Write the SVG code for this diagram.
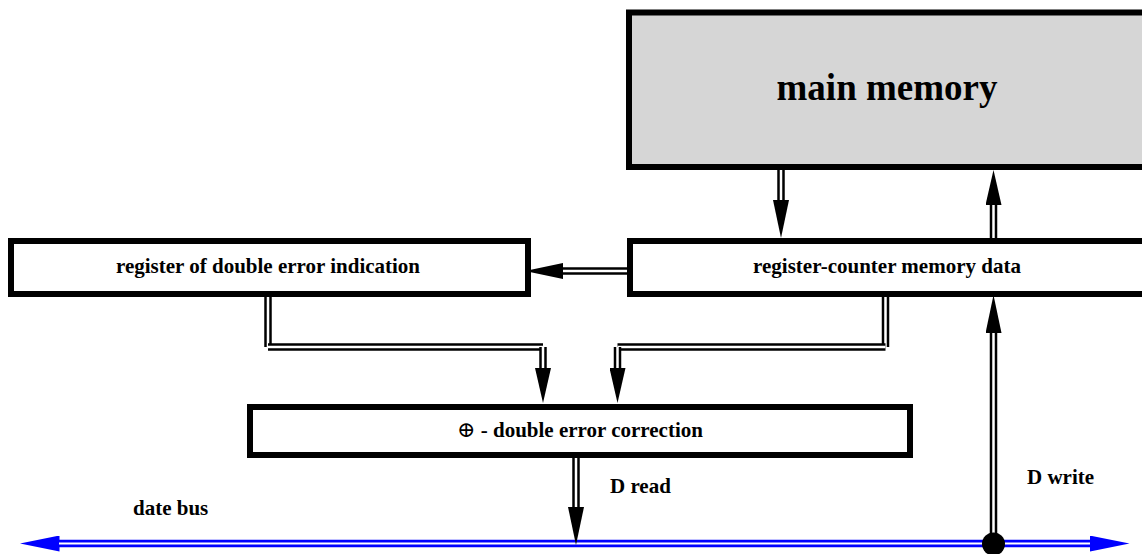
<svg xmlns="http://www.w3.org/2000/svg" width="1142" height="554" viewBox="0 0 1142 554">
  <style>
    .box { fill: #ffffff; stroke: #000000; stroke-width: 6; }
    .mem { fill: #d6d6d6; stroke: #000000; stroke-width: 6; }
    .lbl { font-family: "Liberation Serif", "DejaVu Serif", serif; font-weight: bold; font-size: 21px; fill: #000000; }
    .big { font-size: 37px; }
    .sym { font-family: "DejaVu Serif", serif; font-weight: normal; font-size: 22px; }
    .bk { fill: none; stroke: #000000; stroke-width: 7.5; stroke-linecap: butt; }
    .wt { fill: none; stroke: #ffffff; stroke-width: 2.5; stroke-linecap: butt; }
    .bus { fill: none; stroke: #0000ff; stroke-width: 7.5; }
    .buswt { fill: none; stroke: #ffffff; stroke-width: 2; }
  </style>
  <defs>
    <marker id="head" viewBox="0 0 38 16" markerWidth="38" markerHeight="16" refX="0.5" refY="8" orient="auto" markerUnits="userSpaceOnUse">
      <path d="M0,0 L38,8 L0,16 z" fill="#000000"/>
    </marker>
    <marker id="headS" viewBox="0 0 35 16" markerWidth="35" markerHeight="16" refX="0.5" refY="8" orient="auto" markerUnits="userSpaceOnUse">
      <path d="M0,0 L35,8 L0,16 z" fill="#000000"/>
    </marker>
    <marker id="busHead" viewBox="0 0 40 16" markerWidth="40" markerHeight="16" refX="0.5" refY="8" orient="auto-start-reverse" markerUnits="userSpaceOnUse">
      <path d="M0,0 L40,8 L0,16 z" fill="#0000ff"/>
    </marker>
  </defs>

  <!-- blocks -->
  <g id="main-memory">
    <rect class="mem" x="629" y="12.5" width="530" height="154.5"/>
    <text class="lbl big" x="887" y="100" text-anchor="middle">main memory</text>
  </g>
  <g id="register-counter">
    <rect class="box" x="630" y="241" width="530" height="53"/>
    <text class="lbl" x="887" y="273" text-anchor="middle">register-counter memory data</text>
  </g>
  <g id="double-error-indication">
    <rect class="box" x="11" y="241" width="517" height="53"/>
    <text class="lbl" x="268" y="273" text-anchor="middle">register of double error indication</text>
  </g>
  <g id="double-error-correction">
    <rect class="box" x="250" y="407" width="660" height="48"/>
    <text class="lbl" x="580" y="437" text-anchor="middle"><tspan class="sym">⊕</tspan> - double error correction</text>
  </g>

  <!-- data bus -->
  <g id="date-bus">
    <path class="bus" d="M59,543.5 H1090" marker-start="url(#busHead)" marker-end="url(#busHead)"/>
    <path class="buswt" d="M59,543.5 H1090"/>
    <text class="lbl" x="133" y="515">date bus</text>
  </g>

  <!-- connectors -->
  <g id="connectors">
    <!-- main memory -> register-counter -->
    <path class="bk" d="M781,170 V200.5" marker-end="url(#head)"/>
    <path class="wt" d="M781,170 V200"/>
    <!-- register-counter -> main memory -->
    <path class="bk" d="M993.5,238 V204.5" marker-end="url(#headS)"/>
    <path class="wt" d="M993.5,238 V205"/>
    <!-- register-counter -> double error indication -->
    <path class="bk" d="M627,271 H562.5" marker-end="url(#head)"/>
    <path class="wt" d="M627,271 H563"/>

    <!-- double error indication -> correction -->
    <path class="bk" d="M268,297 V347"/>
    <path class="wt" d="M268,297 V347"/>
    <path class="bk" d="M268,347 H543"/>
    <path class="wt" d="M268,347 H543"/>
    <path class="bk" d="M543,347 V368.5" marker-end="url(#headS)"/>
    <path class="wt" d="M543,347 V368"/>

    <!-- register-counter -> correction -->
    <path class="bk" d="M885.5,297 V347"/>
    <path class="wt" d="M885.5,297 V347"/>
    <path class="bk" d="M885.5,347 H617.5"/>
    <path class="wt" d="M885.5,347 H617.5"/>
    <path class="bk" d="M617.5,347 V368.5" marker-end="url(#headS)"/>
    <path class="wt" d="M617.5,347 V368"/>

    <!-- correction -> bus (D read) -->
    <path class="bk" d="M576,458 V507.5" marker-end="url(#head)"/>
    <path class="wt" d="M576,458 V507"/>
    <text class="lbl" x="610" y="493">D read</text>

    <!-- bus -> register-counter (D write) -->
    <path class="bk" d="M993.5,544 V332.5" marker-end="url(#head)"/>
    <path class="wt" d="M993.5,536 V333"/>
    <circle cx="993.5" cy="544" r="11.5" fill="#000000"/>
    <text class="lbl" x="1027" y="484">D write</text>
  </g>
</svg>
